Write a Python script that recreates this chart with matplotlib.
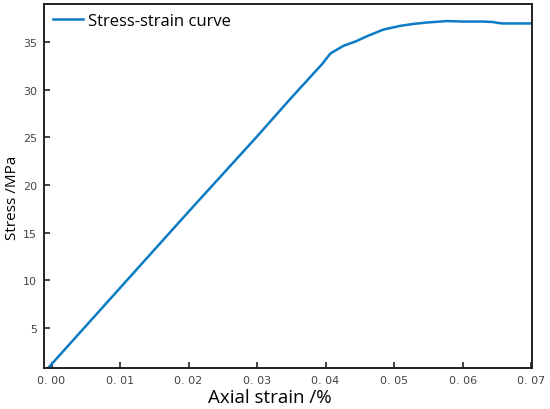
import matplotlib
matplotlib.use("Agg")
import matplotlib.pyplot as plt
from matplotlib.ticker import FuncFormatter

# values (axial strain in %, stress in MPa)
strain = [-0.0005, 0.0, 0.01, 0.02, 0.03, 0.0348, 0.0395, 0.0407, 0.0426, 0.0445,
          0.046, 0.0484, 0.0509, 0.0528, 0.0548, 0.0577, 0.0600, 0.0630, 0.0644,
          0.0652, 0.0659, 0.0700]
stress = [0.8, 1.2, 9.2, 17.2, 25.1, 29.0, 32.7, 33.8, 34.6, 35.1,
          35.6, 36.3, 36.7, 36.9, 37.05, 37.2, 37.15, 37.15, 37.1,
          37.0, 36.95, 36.95]

xticks = [0.00, 0.01, 0.02, 0.03, 0.04, 0.05, 0.06, 0.07]
yticks = [5, 10, 15, 20, 25, 30, 35]

fig = plt.figure(figsize=(5.5, 4.1), dpi=100)
ax = fig.add_axes([0.08, 0.1, 0.887, 0.888])

ax.plot(strain, stress, color="#0a7bc4", linewidth=1.8, label="Stress-strain curve")

ax.set_xlim(-0.0011, 0.0701)
ax.set_ylim(0.8, 39.0)
ax.set_xticks(xticks)
ax.set_yticks(yticks)
ax.xaxis.set_major_formatter(FuncFormatter(lambda v, p: f"{v:.2f}".replace(".", ". ")))
ax.tick_params(direction="in", length=4, width=1.2, labelsize=8, colors="#222222",
               labelcolor="#444444", pad=5)
for s in ax.spines.values():
    s.set_linewidth(1.4)
    s.set_color("#222222")

ax.set_xlabel("Axial strain /%", fontsize=13.5, family="Open Sans", labelpad=2)
ax.xaxis.set_label_coords(0.463, -0.055)
ax.set_ylabel("Stress /MPa", fontsize=11, family="Open Sans")
ax.yaxis.set_label_coords(-0.05, 0.47)

ax.legend(loc="upper left", frameon=False, prop={"family": "Open Sans", "size": 12},
          handlelength=1.8, handletextpad=0.3, borderaxespad=0.15)

fig.savefig("out.png", dpi=100)
